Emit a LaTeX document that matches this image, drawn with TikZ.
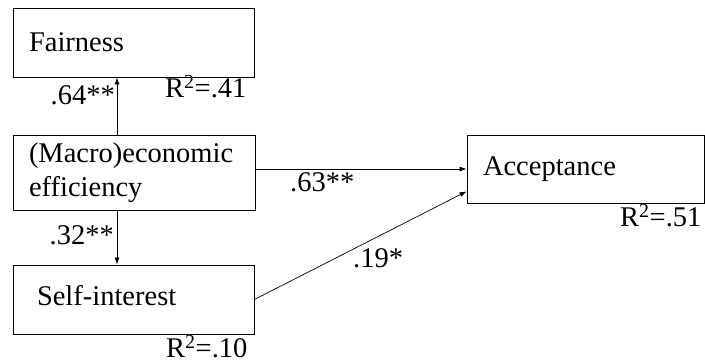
\documentclass[tikz,border=0pt]{standalone}
\usepackage{fontspec}
\setmainfont{Liberation Serif}
\usetikzlibrary{arrows.meta}
\begin{document}
\begin{tikzpicture}[x=1pt,y=-1pt,
  every node/.style={font=\fontsize{28.5}{34}\selectfont},
  box/.style={draw, line width=0.8pt, rectangle, align=left, inner xsep=16pt, inner ysep=0pt},
  lbl/.style={inner sep=0pt},
  arr/.style={line width=0.7pt, -{Latex[length=7pt,width=5pt]}}]
\useasboundingbox (0,0) rectangle (705,363);
\node[box, text width=209pt, minimum height=69pt] (fair) at (133.5,42.5) {Fairness};
\node[box, text width=210pt, minimum height=75pt] (macro) at (134,172.5) {(Macro)economic\\efficiency};
\node[box, text width=209pt, minimum height=69pt, text depth=8pt] (self) at (133.5,299.5) {\hspace*{8pt}Self-interest};
\node[box, text width=205pt, minimum height=68pt] (acc) at (585.5,169) {Acceptance};
\node[lbl, anchor=base east] (l64) at (115,105) {.64**};
\node[lbl, anchor=base west] (r41) at (165,98) {R\textsuperscript{2}=.41};
\node[lbl, anchor=base east] (l32) at (114,245) {.32**};
\node[lbl, anchor=base west] (r10) at (166,358) {R\textsuperscript{2}=.10};
\node[lbl, anchor=base west] (l63) at (290,192) {.63**};
\node[lbl, anchor=base west] (l19) at (353,268) {.19*};
\node[lbl, anchor=base west] (r51) at (620,227) {R\textsuperscript{2}=.51};
\draw[arr] ([xshift=-17pt]macro.north) -- ([xshift=-16.5pt]fair.south);
\draw[arr] ([xshift=-17pt]macro.south) -- ([xshift=-16.5pt]self.north);
\draw[arr] (acc.west -| macro.east) -- (acc.west);
\draw[arr] (self.east) -- ([yshift=12pt]acc.south west);
\end{tikzpicture}
\end{document}
